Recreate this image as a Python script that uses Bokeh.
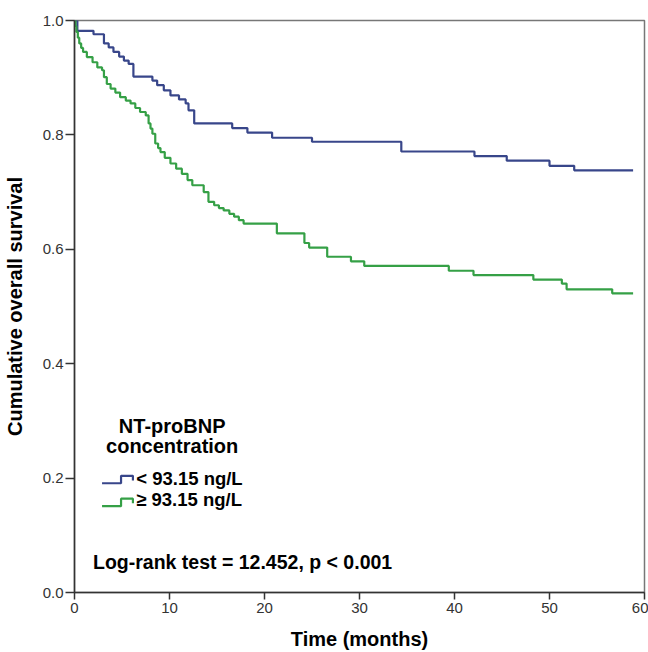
from bokeh.plotting import figure
from bokeh.models import Range1d, FixedTicker, NumeralTickFormatter
from bokeh.core.properties import value
from bokeh.embed import file_html
from bokeh.resources import INLINE

# ---- data ----
low_time = [0, 0.3, 2.0, 3.1, 3.6, 4.1, 4.7, 5.2, 5.7, 6.2, 8.2, 8.7, 9.4, 10.1,
            11.0, 11.7, 12.0, 12.6, 16.6, 18.2, 20.8, 25.0, 34.4, 42.1, 45.5,
            50.0, 52.6, 58.8]
low_surv = [1.0, 0.982, 0.976, 0.960, 0.953, 0.945, 0.937, 0.930, 0.924, 0.902,
            0.895, 0.887, 0.878, 0.869, 0.862, 0.855, 0.843, 0.820, 0.812, 0.804,
            0.795, 0.788, 0.771, 0.763, 0.755, 0.746, 0.738, 0.738]

high_time = [0, 0.1, 0.2, 0.35, 0.5, 0.7, 0.9, 1.3, 1.9, 2.4, 2.9, 3.1, 3.4, 3.8,
             4.3, 4.8, 5.4, 5.9, 6.4, 6.9, 7.5, 7.8, 8.0, 8.2, 8.5, 8.8, 9.05,
             9.5, 10.1, 10.7, 11.3, 11.9, 12.4, 13.6, 14.1, 14.7, 15.2, 15.7,
             16.3, 16.8, 17.3, 17.8, 21.3, 24.2, 24.7, 26.6, 29.1, 30.5, 39.4,
             42.0, 48.3, 51.3, 51.8, 56.6, 58.8]
high_surv = [1.0, 0.99, 0.98, 0.97, 0.96, 0.952, 0.945, 0.936, 0.927, 0.918, 0.913,
             0.901, 0.889, 0.881, 0.874, 0.866, 0.860, 0.855, 0.847, 0.840, 0.834,
             0.820, 0.811, 0.802, 0.785, 0.777, 0.770, 0.760, 0.750, 0.741, 0.732,
             0.721, 0.712, 0.700, 0.683, 0.677, 0.672, 0.668, 0.662, 0.657, 0.651,
             0.645, 0.628, 0.611, 0.603, 0.587, 0.579, 0.571, 0.5625, 0.555, 0.547,
             0.540, 0.530, 0.523, 0.523]

x_ticks = [0, 10, 20, 30, 40, 50, 60]
y_ticks = [0.0, 0.2, 0.4, 0.6, 0.8, 1.0]

group_labels = ["< 93.15 ng/L", "\u2265 93.15 ng/L"]
legend_title = ["NT-proBNP", "concentration"]
stat_text = "Log-rank test = 12.452, p < 0.001"

BLUE = "#38468a"
GREEN = "#35a046"
FONT = value("Liberation Sans")

p = figure(width=648, height=652,
           x_range=Range1d(0, 60), y_range=Range1d(0, 1.0),
           output_backend="svg", toolbar_location=None,
           min_border_left=74, min_border_right=4,
           min_border_top=20, min_border_bottom=59)

p.xgrid.visible = False
p.ygrid.visible = False
p.background_fill_color = "white"
p.border_fill_color = "white"
p.outline_line_color = "#777777"
p.outline_line_width = 1.5

p.xaxis.ticker = FixedTicker(ticks=x_ticks)
p.yaxis.ticker = FixedTicker(ticks=y_ticks)
p.yaxis.formatter = NumeralTickFormatter(format="0.0")
for ax in (p.xaxis, p.yaxis):
    ax.axis_line_color = "#333333"
    ax.axis_line_width = 1.5
    ax.major_tick_line_color = "#333333"
    ax.major_tick_line_width = 1.5
    ax.minor_tick_line_color = None
    ax.major_tick_in = 0
    ax.major_label_text_font = "Liberation Sans"
    ax.major_label_text_font_size = "15px"
    ax.major_label_text_color = "#333333"
    ax.axis_label_text_font = "Liberation Sans"
    ax.axis_label_text_font_style = "bold"
    ax.axis_label_text_font_size = "20px"
    ax.axis_label_text_color = "black"

p.yaxis.major_tick_out = 9
p.yaxis.major_label_standoff = 2
p.yaxis.axis_label = "Cumulative overall survival"
p.yaxis.axis_label_standoff = 14
p.xaxis.major_tick_out = 7
p.xaxis.major_label_standoff = 3
p.xaxis.axis_label = "Time (months)"
p.xaxis.axis_label_standoff = 12

# survival curves
p.step(low_time, low_surv, mode="after", line_color=BLUE, line_width=2.2)
p.step(high_time, high_surv, mode="after", line_color=GREEN, line_width=2.2)

# legend (layout positions in data units)
LX0, LX1, LX2 = 2.9, 4.9, 6.15
LY = [0.191, 0.151]
LRISE = 0.013
LDROP = 0.008
for yb, col in zip(LY, [BLUE, GREEN]):
    p.line([LX0, LX1, LX1, LX2, LX2],
           [yb, yb, yb + LRISE, yb + LRISE, yb + LRISE - LDROP],
           line_color=col, line_width=2.2)

p.text(x=[10.28, 10.28], y=[0.291, 0.256], text=legend_title,
       text_font=FONT, text_font_style="bold", text_font_size="20px",
       text_align="center", text_baseline="alphabetic", text_color="black")
p.text(x=[6.5, 6.5], y=[0.199, 0.163], text=group_labels,
       text_font=FONT, text_font_style="bold", text_font_size="18.5px",
       text_align="left", text_baseline="alphabetic", text_color="black")
p.text(x=[1.95], y=[0.054], text=[stat_text],
       text_font=FONT, text_font_style="bold", text_font_size="19.5px",
       text_align="left", text_baseline="alphabetic", text_color="black")

open("out.html", "w").write(file_html(p, INLINE))
